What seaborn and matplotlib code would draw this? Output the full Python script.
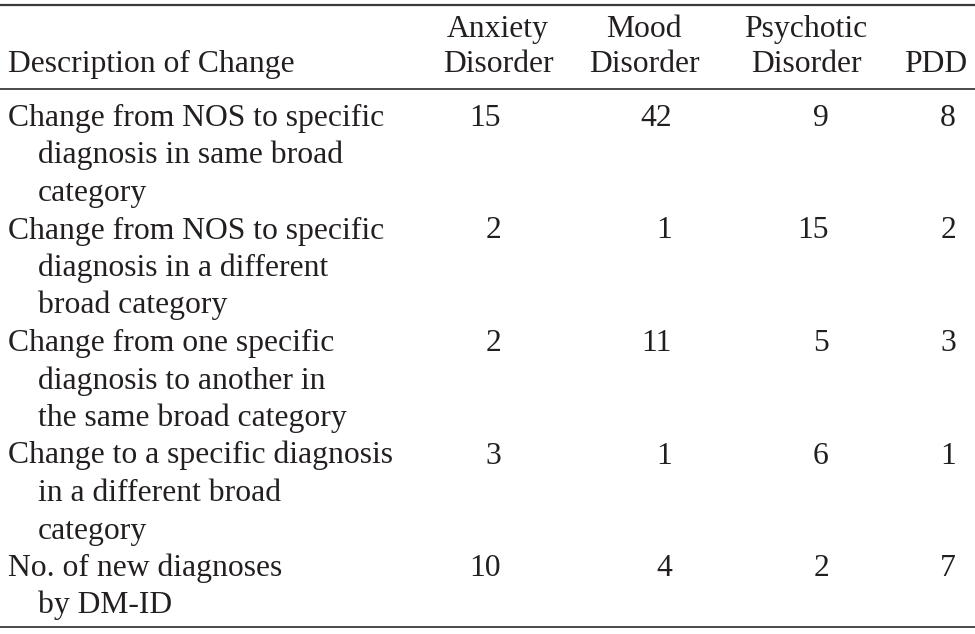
import matplotlib
matplotlib.use("Agg")
import matplotlib.pyplot as plt
import seaborn as sns
import pandas as pd

# Table contents
header_cols = ["Anxiety\nDisorder", "Mood\nDisorder", "Psychotic\nDisorder", "PDD"]
row_labels = [
    ["Change from NOS to specific", "diagnosis in same broad", "category"],
    ["Change from NOS to specific", "diagnosis in a different", "broad category"],
    ["Change from one specific", "diagnosis to another in", "the same broad category"],
    ["Change to a specific diagnosis", "in a different broad", "category"],
    ["No. of new diagnoses", "by DM-ID"],
]
anxiety = [15, 2, 2, 3, 10]
mood = [42, 1, 11, 1, 4]
psychotic = [9, 15, 5, 6, 2]
pdd = [8, 2, 3, 1, 7]

table = pd.DataFrame({"Anxiety": anxiety, "Mood": mood, "Psychotic": psychotic, "PDD": pdd})

sns.set_theme(style="white")
plt.rcParams["font.family"] = ["Liberation Serif", "DejaVu Serif"]

W, H = 975, 634
fig = plt.figure(figsize=(W / 100, H / 100), dpi=100)
ax = fig.add_axes([0, 0, 1, 1])
ax.set_xlim(0, W)
ax.set_ylim(H, 0)
ax.axis("off")

fs = 22.8
ink = "#231f20"

# rules
ax.plot([0, W], [5, 5], color="#3a3a3a", lw=1.6)
ax.plot([0, W], [89, 89], color="#3a3a3a", lw=1.3)
ax.plot([0, W], [627, 627], color="#3a3a3a", lw=1.3)

# header
header_x = [498, 644, 806, 936]
ax.text(8, 72, "Description of Change", fontsize=fs, color=ink, ha="left", va="baseline")
for x, h in zip(header_x, header_cols):
    parts = h.split("\n")
    if len(parts) == 2:
        ax.text(x, 37, parts[0], fontsize=fs, color=ink, ha="center", va="baseline")
    ax.text(x, 72, parts[-1], fontsize=fs, color=ink, ha="center", va="baseline")

# body
num_right = [501, 672, 829, 956]
step = 37.5
line = 0
for i, lines in enumerate(row_labels):
    y0 = 126 + step * line
    for j, t in enumerate(lines):
        ax.text(8 if j == 0 else 38, y0 + step * j, t, fontsize=fs, color=ink,
                ha="left", va="baseline")
    for x, col in zip(num_right, table.columns):
        ax.text(x, y0, str(table[col].iloc[i]), fontsize=fs, color=ink,
                ha="right", va="baseline")
    line += len(lines)

fig.savefig("out.png", dpi=100, facecolor="white")
